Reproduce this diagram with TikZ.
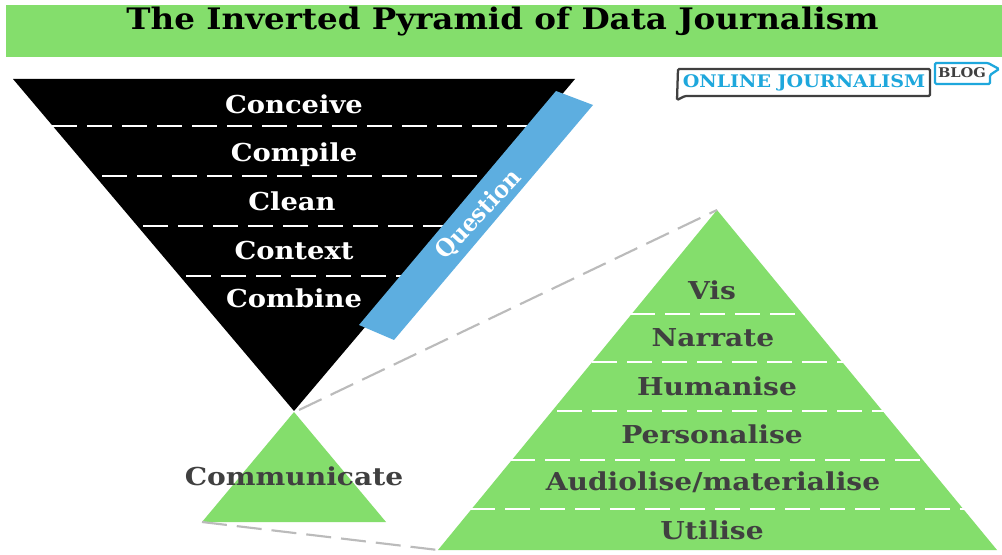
\documentclass[tikz,border=0pt]{standalone}
\usepackage{fontspec}
\setmainfont{DejaVu Serif}[BoldFont={DejaVu Serif Bold}]
\newfontfamily\lblfont{DejaVu Serif Bold}[FakeStretch=1.11]
\newfontfamily\dlblfont{DejaVu Serif Bold}[FakeStretch=1.14]
\newfontfamily\qfont{DejaVu Serif Bold}[FakeStretch=0.93]
\newfontfamily\titlefont{DejaVu Serif Bold}[FakeStretch=1.1]
\newfontfamily\logofont{DejaVu Serif Bold}[FakeStretch=1.1]
\definecolor{pgreen}{HTML}{84DE6C}
\definecolor{pblue}{HTML}{5DAEE0}
\definecolor{ltxt}{HTML}{404040}
\definecolor{lblue}{HTML}{1EA7DC}
\definecolor{lgray}{HTML}{BBBBBB}
\tikzset{
  lbl/.style={inner sep=0pt,anchor=center},
  wlbl/.style={lbl,text=white,font=\lblfont\fontsize{18.5}{20}\selectfont},
  dlbl/.style={lbl,text=ltxt,font=\dlblfont\fontsize{18.5}{20}\selectfont},
  sep/.style={draw=white,line width=1.4pt,dash pattern=on 18.75pt off 7.5pt},
  zoomline/.style={draw=lgray,line width=1.6pt,dash pattern=on 18.75pt off 7.5pt},
}
\begin{document}
\begin{tikzpicture}[x=0.75pt,y=-0.75pt]
\useasboundingbox (0,0) rectangle (1002,555);
\fill[white] (0,0) rectangle (1002,555);
\fill[pgreen] (6,5) rectangle (1002,57);
\node[inner sep=0pt,font=\titlefont\fontsize{22.2}{24}\selectfont] (title) at (502.5,22) {The Inverted Pyramid of Data Journalism};
% inverted pyramid
\fill[black] (13,79) -- (575,79) -- (294,411) -- cycle;
\foreach \n/\y/\a/\b in {a/126/52/530,b/176/102/488,c/226/143/445,d/276/186/404}{
  \coordinate (\n1) at (\a,\y); \coordinate (\n2) at (\b,\y);
  \draw[sep] (\n1) -- (\n2);
}
\node[wlbl] (conceive) at (294,104) {Conceive};
\node[wlbl] (compile) at (294,155) {Compile};
\node[wlbl] (clean) at (292,201) {Clean};
\node[wlbl] (context) at (294,251) {Context};
\node[wlbl] (combine) at (294,298) {Combine};
% question bar
\fill[pblue] (556,91) -- (593,105) -- (394,340) -- (359,325) -- cycle;
\node[lbl,text=white,rotate=47,font=\qfont\fontsize{18}{20}\selectfont] (question) at (479,215) {Question};
% small green pyramid
\fill[pgreen] (294,412) -- (386,522) -- (202,522) -- cycle;
\node[dlbl] (communicate) at (294,476) {Communicate};
% big green pyramid
\fill[pgreen] (717,210) -- (997,550) -- (438,550) -- cycle;
\foreach \n/\y/\a/\b in {e/314/630/803,f/362/592/843,g/411/557/885,h/460/510/922,i/509/470/965}{
  \coordinate (\n1) at (\a,\y); \coordinate (\n2) at (\b,\y);
  \draw[sep] (\n1) -- (\n2);
}
\node[dlbl] (vis) at (712,290) {Vis};
\node[dlbl] (narrate) at (713,338) {Narrate};
\node[dlbl] (humanise) at (717,386) {Humanise};
\node[dlbl] (personalise) at (712,434) {Personalise};
\node[dlbl] (audio) at (713,482) {Audiolise/materialise};
\node[dlbl] (utilise) at (712,530) {Utilise};
% zoom lines
\coordinate (st) at (299,410); \coordinate (bt) at (717,210);
\coordinate (sl) at (202,522); \coordinate (bl) at (438,550);
\draw[zoomline] (st) -- (bt);
\draw[zoomline] (sl) -- (bl);
% logo
\draw[draw=ltxt,line width=1.7pt,rounded corners=1pt,fill=white] (678,69) -- (930,69) -- (930,96) -- (685,96) -- (677,100) -- cycle;
\node[inner sep=0pt,text=lblue,font=\logofont\fontsize{13}{15}\selectfont] (oj) at (804,83) {ONLINE JOURNALISM};
\draw[draw=lblue,line width=1.7pt,rounded corners=1pt,fill=white] (935,63) -- (988,63) -- (999,69) -- (990,75) -- (990,84) -- (935,84) -- cycle;
\node[inner sep=0pt,text=ltxt,font=\logofont\fontsize{10}{11}\selectfont] (blog) at (962,73) {BLOG};
\end{tikzpicture}
\end{document}
